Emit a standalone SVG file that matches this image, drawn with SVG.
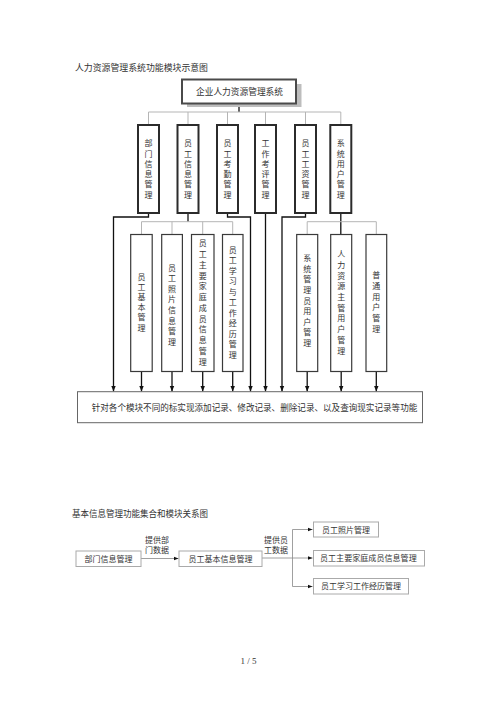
<svg xmlns="http://www.w3.org/2000/svg" width="500" height="708" viewBox="0 0 500 708">
<defs>
<marker id="ah" viewBox="0 0 6 6" refX="6" refY="3" markerWidth="6" markerHeight="6" markerUnits="userSpaceOnUse" orient="auto">
<path d="M0,0.6 L6,3 L0,5.4 Z" fill="#111"/>
</marker>
<marker id="ah2" viewBox="0 0 6 6" refX="6" refY="3" markerWidth="5" markerHeight="5" markerUnits="userSpaceOnUse" orient="auto">
<path d="M0,0.8 L6,3 L0,5.2 Z" fill="#111"/>
</marker>
<style>
text{font-family:"Liberation Serif","Noto Sans CJK SC",serif;fill:#333;}
.t9{font-size:9px;}
.t8{font-size:8px;}
.v{font-size:8px;text-anchor:middle;}
.c{text-anchor:middle;}
.mod{fill:#fff;stroke:#2b2b2b;stroke-width:2;}
.sub{fill:#fff;stroke:#3a3a3a;stroke-width:1.2;}
.bar{fill:#fff;stroke:#666;stroke-width:1;}
.lb{fill:#fff;stroke:#aaa;stroke-width:1;}
.gray{fill:none;stroke:#b5b5b5;stroke-width:1;}
.dark{fill:none;stroke:#111;stroke-width:1.3;}
.thin{fill:none;stroke:#888;stroke-width:0.8;}
</style>
</defs>
<rect width="500" height="708" fill="#fff"/>

<text class="t9" x="75" y="71" textLength="133" lengthAdjust="spacingAndGlyphs">人力资源管理系统功能模块示意图</text>

<g id="connectors">
<path class="dark" d="M239,103.5 V112"/>
<path class="gray" d="M148.5,112 H340.8 M148.5,112 V125 M188,112 V125 M227.5,112 V125 M265.5,112 V125 M305.5,112 V125 M340.8,112 V125"/>
<path class="dark" d="M148.5,213 V217 H113.5 V391.5" marker-end="url(#ah)"/>
<path class="dark" d="M188,213 V221.7"/>
<path class="gray" d="M141.5,221.7 H232.7 M141.5,221.7 V234.5 M172,221.7 V234.5 M202.7,221.7 V234.5 M232.7,221.7 V234.5"/>
<path class="dark" d="M227.5,213 V217 H250.5 V391.5" marker-end="url(#ah)"/>
<path class="dark" d="M265.5,213 V391.5" marker-end="url(#ah)"/>
<path class="dark" d="M305.5,213 V217 H282 V391.5" marker-end="url(#ah)"/>
<path class="dark" d="M340.8,213 V234.5"/>
<path class="gray" d="M307.2,221.7 H376.3 M307.2,221.7 V234.5 M376.3,221.7 V234.5"/>
<path class="dark" d="M141.5,371.5 V391.5" marker-end="url(#ah)"/>
<path class="dark" d="M172,371.5 V391.5" marker-end="url(#ah)"/>
<path class="dark" d="M202.7,371.5 V391.5" marker-end="url(#ah)"/>
<path class="dark" d="M232.7,371.5 V391.5" marker-end="url(#ah)"/>
<path class="dark" d="M307.2,371.5 V391.5" marker-end="url(#ah)"/>
<path class="dark" d="M341.2,371.5 V391.5" marker-end="url(#ah)"/>
<path class="dark" d="M376.3,371.5 V391.5" marker-end="url(#ah)"/>
</g>

<g id="root">
<rect x="187" y="84" width="114.5" height="23" fill="#bdbdbd"/>
<rect x="182" y="79.5" width="114" height="24" fill="#fff" stroke="#4a4a4a" stroke-width="2"/>
<text class="t9" x="196" y="94.5" textLength="87" lengthAdjust="spacingAndGlyphs">企业人力资源管理系统</text>
</g>

<g id="m1"><rect class="mod" x="138" y="125" width="21" height="88"/>
<text class="v"><tspan x="148.5" y="146.2">部</tspan><tspan x="148.5" y="156.5">门</tspan><tspan x="148.5" y="166.8">信</tspan><tspan x="148.5" y="177.1">息</tspan><tspan x="148.5" y="187.4">管</tspan><tspan x="148.5" y="197.7">理</tspan></text></g>
<g id="m2"><rect class="mod" x="177.5" y="125" width="21" height="88"/>
<text class="v"><tspan x="188" y="146.2">员</tspan><tspan x="188" y="156.5">工</tspan><tspan x="188" y="166.8">信</tspan><tspan x="188" y="177.1">息</tspan><tspan x="188" y="187.4">管</tspan><tspan x="188" y="197.7">理</tspan></text></g>
<g id="m3"><rect class="mod" x="217" y="125" width="21" height="88"/>
<text class="v"><tspan x="227.5" y="146.2">员</tspan><tspan x="227.5" y="156.5">工</tspan><tspan x="227.5" y="166.8">考</tspan><tspan x="227.5" y="177.1">勤</tspan><tspan x="227.5" y="187.4">管</tspan><tspan x="227.5" y="197.7">理</tspan></text></g>
<g id="m4"><rect class="mod" x="255" y="125" width="21" height="88"/>
<text class="v"><tspan x="265.5" y="146.2">工</tspan><tspan x="265.5" y="156.5">作</tspan><tspan x="265.5" y="166.8">考</tspan><tspan x="265.5" y="177.1">评</tspan><tspan x="265.5" y="187.4">管</tspan><tspan x="265.5" y="197.7">理</tspan></text></g>
<g id="m5"><rect class="mod" x="295" y="125" width="21" height="88"/>
<text class="v"><tspan x="305.5" y="146.2">员</tspan><tspan x="305.5" y="156.5">工</tspan><tspan x="305.5" y="166.8">工</tspan><tspan x="305.5" y="177.1">资</tspan><tspan x="305.5" y="187.4">管</tspan><tspan x="305.5" y="197.7">理</tspan></text></g>
<g id="m6"><rect class="mod" x="330.3" y="125" width="21" height="88"/>
<text class="v"><tspan x="340.8" y="146.2">系</tspan><tspan x="340.8" y="156.5">统</tspan><tspan x="340.8" y="166.8">用</tspan><tspan x="340.8" y="177.1">户</tspan><tspan x="340.8" y="187.4">管</tspan><tspan x="340.8" y="197.7">理</tspan></text></g>

<g id="s1"><rect class="sub" x="130.7" y="234.5" width="21.5" height="137"/>
<text class="v"><tspan x="141.5" y="279.6">员</tspan><tspan x="141.5" y="289.8">工</tspan><tspan x="141.5" y="300">基</tspan><tspan x="141.5" y="310.2">本</tspan><tspan x="141.5" y="320.4">管</tspan><tspan x="141.5" y="330.6">理</tspan></text></g>
<g id="s2"><rect class="sub" x="161.7" y="234.5" width="20.7" height="137"/>
<text class="v"><tspan x="172" y="270.6">员</tspan><tspan x="172" y="281.2">工</tspan><tspan x="172" y="291.8">照</tspan><tspan x="172" y="302.4">片</tspan><tspan x="172" y="313">信</tspan><tspan x="172" y="323.6">息</tspan><tspan x="172" y="334.2">管</tspan><tspan x="172" y="344.8">理</tspan></text></g>
<g id="s3"><rect class="sub" x="191.5" y="234.5" width="22.5" height="137"/>
<text class="v"><tspan x="202.7" y="246.2">员</tspan><tspan x="202.7" y="257">工</tspan><tspan x="202.7" y="267.7">主</tspan><tspan x="202.7" y="278.5">要</tspan><tspan x="202.7" y="289.2">家</tspan><tspan x="202.7" y="300">庭</tspan><tspan x="202.7" y="310.8">成</tspan><tspan x="202.7" y="321.5">员</tspan><tspan x="202.7" y="332.3">信</tspan><tspan x="202.7" y="343">息</tspan><tspan x="202.7" y="353.8">管</tspan><tspan x="202.7" y="364.6">理</tspan></text></g>
<g id="s4"><rect class="sub" x="222.5" y="234.5" width="20.5" height="137"/>
<text class="v"><tspan x="232.7" y="252.9">员</tspan><tspan x="232.7" y="263.4">工</tspan><tspan x="232.7" y="273.9">学</tspan><tspan x="232.7" y="284.4">习</tspan><tspan x="232.7" y="294.9">与</tspan><tspan x="232.7" y="305.4">工</tspan><tspan x="232.7" y="315.9">作</tspan><tspan x="232.7" y="326.4">经</tspan><tspan x="232.7" y="336.9">历</tspan><tspan x="232.7" y="347.4">管</tspan><tspan x="232.7" y="357.9">理</tspan></text></g>
<g id="s5"><rect class="sub" x="296.7" y="234.5" width="21" height="137"/>
<text class="v"><tspan x="307.2" y="261.2">系</tspan><tspan x="307.2" y="271.8">统</tspan><tspan x="307.2" y="282.4">管</tspan><tspan x="307.2" y="293">理</tspan><tspan x="307.2" y="303.6">员</tspan><tspan x="307.2" y="314.2">用</tspan><tspan x="307.2" y="324.8">户</tspan><tspan x="307.2" y="335.4">管</tspan><tspan x="307.2" y="346">理</tspan></text></g>
<g id="s6"><rect class="sub" x="330.7" y="234.5" width="21" height="137"/>
<text class="v"><tspan x="341.2" y="257.2">人</tspan><tspan x="341.2" y="267.9">力</tspan><tspan x="341.2" y="278.6">资</tspan><tspan x="341.2" y="289.3">源</tspan><tspan x="341.2" y="300">主</tspan><tspan x="341.2" y="310.7">管</tspan><tspan x="341.2" y="321.4">用</tspan><tspan x="341.2" y="332.1">户</tspan><tspan x="341.2" y="342.8">管</tspan><tspan x="341.2" y="353.5">理</tspan></text></g>
<g id="s7"><rect class="sub" x="366" y="234.5" width="20.7" height="137"/>
<text class="v"><tspan x="376.3" y="277.9">普</tspan><tspan x="376.3" y="288.7">通</tspan><tspan x="376.3" y="299.5">用</tspan><tspan x="376.3" y="310.3">户</tspan><tspan x="376.3" y="321.1">管</tspan><tspan x="376.3" y="331.9">理</tspan></text></g>

<g id="bar"><rect class="bar" x="77.5" y="391.7" width="345" height="31"/>
<text class="t9" x="91.7" y="410.5" textLength="325.6" lengthAdjust="spacingAndGlyphs">针对各个模块不同的标实现添加记录、修改记录、删除记录、以及查询现实记录等功能</text></g>

<text class="t9" x="72" y="517" textLength="136" lengthAdjust="spacingAndGlyphs">基本信息管理功能集合和模块关系图</text>

<g id="connectors2">
<path class="thin" d="M141,558.5 H178.5" marker-end="url(#ah2)"/>
<path class="thin" d="M262,558 H292.5 M292.5,529.5 V586.5"/>
<path class="thin" d="M292.5,529.5 H312.5" marker-end="url(#ah2)"/>
<path class="thin" d="M292.5,558 H312.5" marker-end="url(#ah2)"/>
<path class="thin" d="M292.5,586.5 H312.5" marker-end="url(#ah2)"/>
<text class="t8 c"><tspan x="157" y="543">提供部</tspan><tspan x="157" y="553">门数据</tspan></text>
<text class="t8 c"><tspan x="276" y="543">提供员</tspan><tspan x="276" y="553">工数据</tspan></text>
</g>

<g id="b1"><rect class="lb" x="76" y="551" width="65" height="15.5"/><text class="t8 c" x="108.5" y="561.5">部门信息管理</text></g>
<g id="b2"><rect class="lb" x="179" y="551" width="83" height="15.5"/><text class="t8 c" x="220.5" y="561.5">员工基本信息管理</text></g>
<g id="b3"><rect class="lb" x="313.5" y="522" width="65" height="15"/><text class="t8 c" x="346" y="532.5">员工照片管理</text></g>
<g id="b4"><rect class="lb" x="313.5" y="550.5" width="111" height="15.5"/><text class="t8" x="320" y="561" textLength="96.7" lengthAdjust="spacingAndGlyphs">员工主要家庭成员信息管理</text></g>
<g id="b5"><rect class="lb" x="313.5" y="578.5" width="95" height="15.5"/><text class="t8 c" x="361" y="589">员工学习工作经历管理</text></g>

<text class="t9 c" x="248.5" y="664">1 / 5</text>
</svg>
